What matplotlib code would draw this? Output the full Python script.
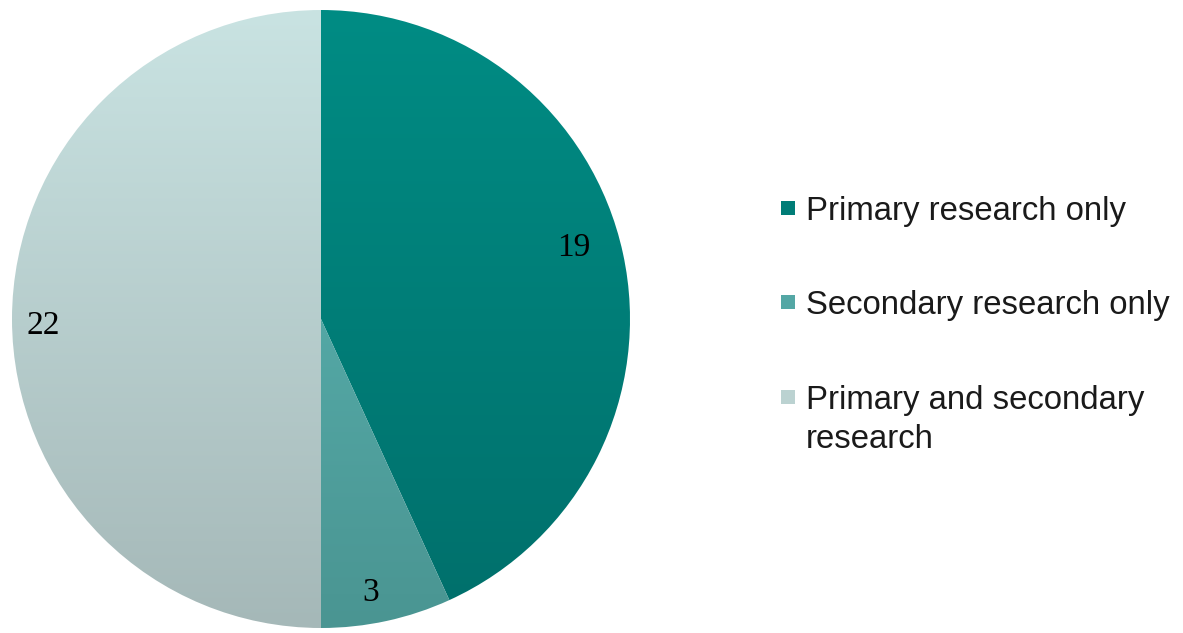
import matplotlib.pyplot as plt
import numpy as np
from matplotlib.colors import LinearSegmentedColormap
from matplotlib.patches import Rectangle

categories = ['Primary research only', 'Secondary research only', 'Primary and secondary\nresearch']
counts = [19, 3, 22]
value_labels = ['19', '3', '22']

# gradient ends (top, bottom) for every slice
top_colors = ['#008C84', '#5DBAB8', '#C9E3E2']
bottom_colors = ['#006F6B', '#4A9592', '#A5B8B8']
legend_colors = ['#007D77', '#54A7A5', '#BBD2D1']

W, H = 1183, 633
fig = plt.figure(figsize=(W / 100, H / 100), dpi=100)
fig.patch.set_facecolor('white')

cx, cy, r = 321, 633 - 319, 309
ax = fig.add_axes([(cx - r) / W, (cy - r) / H, 2 * r / W, 2 * r / H])

wedges, _ = ax.pie(
	counts,
	startangle=90,
	counterclock=False,
	radius=1.0,
	wedgeprops=dict(linewidth=0),
)
ax.set_xlim(-1, 1)
ax.set_ylim(-1, 1)
ax.set_aspect('equal')
ax.axis('off')

grad = np.linspace(0, 1, 256).reshape(-1, 1)
for w, c0, c1 in zip(wedges, top_colors, bottom_colors):
	cmap = LinearSegmentedColormap.from_list('g', [c0, c1])
	im = ax.imshow(grad, cmap=cmap, extent=[-1, 1, -1, 1], origin='upper',
		aspect='auto', zorder=w.get_zorder())
	im.set_clip_path(w)
	w.set_facecolor('none')

# value labels, placed along each slice's middle angle (small nudges like excel's inside-end)
label_r = [0.85, 0.9, 0.9]
label_shift = [3.5, -2.0, 1.4]  # degrees
for w, txt, lr, sh in zip(wedges, value_labels, label_r, label_shift):
	mid = np.deg2rad((w.theta1 + w.theta2) / 2 + sh)
	ax.text(lr * np.cos(mid), lr * np.sin(mid), txt, ha='center', va='center',
		fontsize=24, family='Liberation Serif', color='black', zorder=5)

# legend drawn by hand so the square sits on the first text line
rows_y = [208, 302, 397]
for name, col, y in zip(categories, legend_colors, rows_y):
	fig.patches.append(Rectangle((781 / W, (H - y - 7) / H), 14 / W, 14 / H,
		transform=fig.transFigure, facecolor=col, edgecolor='none'))
	if '\n' in name:
		fig.text(806 / W, (H - y + 11.5) / H, name, ha='left', va='top',
			fontsize=23.7, family='Liberation Sans', color='#1a1a1a', linespacing=1.32)
	else:
		fig.text(806 / W, (H - y) / H, name, ha='left', va='center_baseline',
			fontsize=23.7, family='Liberation Sans', color='#1a1a1a')

fig.savefig('out.png', dpi=100)
